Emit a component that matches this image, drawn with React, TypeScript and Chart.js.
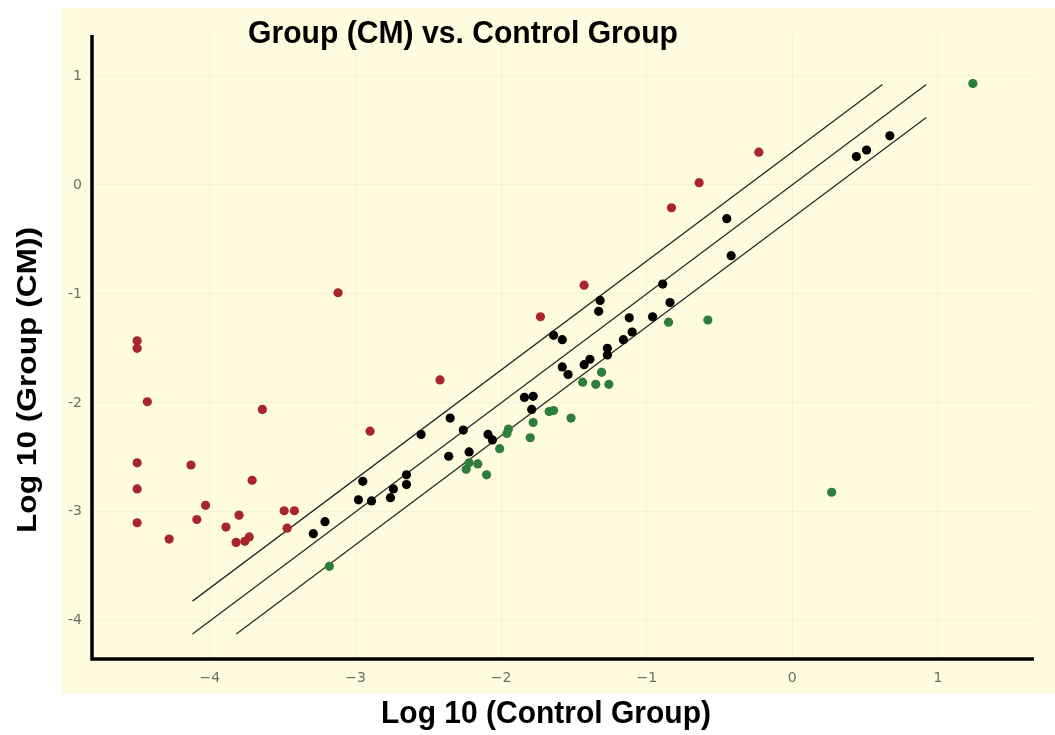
import React, { useEffect, useRef } from 'react';
import { Chart, registerables } from 'chart.js';

Chart.register(...registerables);

// ---- data (log10 values) ----
const redX = [-4.5, -4.5, -4.43, -3.64, -2.42, -2.9, -4.5, -4.13, -4.5, -3.71, -4.03, -4.09, -4.5, -3.8, -3.89, -3.49, -3.42, -3.47, -4.28, -3.82, -3.76, -3.73, -3.12, -1.43, -1.73, -0.23, -0.64, -0.83];
const redY = [-1.43, -1.5, -1.99, -2.06, -1.79, -2.26, -2.55, -2.57, -2.79, -2.71, -2.94, -3.07, -3.1, -3.03, -3.14, -2.99, -2.99, -3.15, -3.25, -3.28, -3.27, -3.23, -0.99, -0.92, -1.21, 0.3, 0.02, -0.21];

const greenX = [1.24, -0.85, -0.58, 0.27, -3.18, -1.31, -1.44, -1.35, -1.26, -1.67, -1.64, -1.52, -1.78, -1.8, -1.95, -1.96, -2.01, -2.22, -2.24, -2.16, -2.1];
const greenY = [0.93, -1.26, -1.24, -2.82, -3.5, -1.72, -1.81, -1.83, -1.83, -2.08, -2.07, -2.14, -2.18, -2.32, -2.24, -2.28, -2.42, -2.55, -2.61, -2.56, -2.66];

const blackX = [0.67, 0.51, 0.44, -0.45, -0.42, -0.89, -0.84, -0.96, -1.12, -1.1, -1.16, -1.32, -1.33, -1.27, -1.27, -1.64, -1.58, -1.39, -1.43, -1.58, -1.54, -1.84, -1.78, -1.79, -2.35, -2.55, -2.26, -2.09, -2.06, -2.22, -2.36, -2.65, -2.65, -2.74, -2.76, -2.95, -2.98, -2.89, -3.21, -3.29];
const blackY = [0.45, 0.32, 0.26, -0.31, -0.65, -0.91, -1.08, -1.21, -1.22, -1.35, -1.42, -1.06, -1.16, -1.5, -1.56, -1.38, -1.42, -1.6, -1.65, -1.67, -1.74, -1.95, -1.94, -2.06, -2.14, -2.29, -2.25, -2.29, -2.34, -2.45, -2.49, -2.66, -2.75, -2.79, -2.87, -2.72, -2.89, -2.9, -3.09, -3.2];

// fold-change reference lines: y = x + offset (log10(2) = 0.301)
const foldOffsets = [0.301, 0, -0.301];
const lineBounds = [-4.12, 0.92];

const xTickValues = [-4, -3, -2, -1, 0, 1];
const yTickValues = [-4, -3, -2, -1, 0, 1];

const titleText = 'Group (CM) vs. Control Group';
const xTitleText = 'Log 10 (Control Group)';
const yTitleText = 'Log 10 (Group (CM))';

const toPoints = (xs: number[], ys: number[]) => xs.map((x, i) => ({ x, y: ys[i] }));

function foldLine(offset: number) {
  const [lo, hi] = lineBounds;
  const x0 = Math.max(lo, lo - offset);
  const x1 = Math.min(hi, hi - offset);
  return [
    { x: x0, y: x0 + offset },
    { x: x1, y: x1 + offset },
  ];
}

function drawFitted(ctx: CanvasRenderingContext2D, text: string, cx: number, cy: number, font: string, targetW: number, rotate = false) {
  ctx.save();
  ctx.font = font;
  const w = ctx.measureText(text).width;
  ctx.translate(cx, cy);
  if (rotate) ctx.rotate(-Math.PI / 2);
  ctx.scale(targetW / w, 1);
  ctx.textAlign = 'center';
  ctx.textBaseline = 'middle';
  ctx.fillStyle = '#000000';
  ctx.fillText(text, 0, 0);
  ctx.restore();
}

const decorPlugin = {
  id: 'decor',
  beforeDraw(chart: any) {
    const ctx = chart.ctx as CanvasRenderingContext2D;
    ctx.save();
    ctx.fillStyle = '#ffffff';
    ctx.fillRect(0, 0, chart.width, chart.height);
    ctx.fillStyle = '#FEFBDE';
    ctx.fillRect(62, 8, chart.width - 62, 686);
    ctx.restore();
  },
  afterDraw(chart: any) {
    const ctx = chart.ctx as CanvasRenderingContext2D;
    const { left, right, top, bottom } = chart.chartArea;
    ctx.save();
    ctx.strokeStyle = '#000000';
    ctx.lineWidth = 3.5;
    ctx.beginPath();
    ctx.moveTo(left, top);
    ctx.lineTo(left, bottom);
    ctx.lineTo(right, bottom);
    ctx.stroke();
    ctx.restore();

    drawFitted(ctx, titleText, 463, 34, "bold 31px 'Liberation Sans', Arial, sans-serif", 430);
    drawFitted(ctx, xTitleText, 546, 714, "bold 31px 'Liberation Sans', Arial, sans-serif", 330);
    drawFitted(ctx, yTitleText, 29, 380, "bold 27px 'Liberation Sans', Arial, sans-serif", 306, true);
  },
};

export default function App() {
  const canvasRef = useRef<HTMLCanvasElement | null>(null);

  useEffect(() => {
    if (!canvasRef.current) return;
    const lineDatasets = foldOffsets.map((off) => ({
      type: 'scatter' as const,
      data: foldLine(off),
      showLine: true,
      borderColor: '#2a2a2a',
      borderWidth: 1.3,
      pointRadius: 0,
      pointHoverRadius: 0,
      fill: false,
      order: 10,
    }));
    const pointDs = (xs: number[], ys: number[], color: string) => ({
      type: 'scatter' as const,
      data: toPoints(xs, ys),
      backgroundColor: color,
      borderColor: color,
      borderWidth: 0,
      pointRadius: 4.6,
      pointHoverRadius: 4.6,
      order: 1,
    });

    const chart = new Chart(canvasRef.current, {
      type: 'scatter',
      data: {
        datasets: [
          ...lineDatasets,
          pointDs(redX, redY, '#A8252B'),
          pointDs(greenX, greenY, '#2F7D3C'),
          pointDs(blackX, blackY, '#000000'),
        ] as any,
      },
      plugins: [decorPlugin],
      options: {
        animation: false,
        responsive: false,
        layout: { padding: { top: 35, right: 21, left: 0, bottom: 0 } },
        plugins: {
          legend: { display: false },
          tooltip: { enabled: false },
          title: { display: false },
        },
        scales: {
          x: {
            type: 'linear',
            min: -4.81,
            max: 1.66,
            afterBuildTicks: (s: any) => {
              s.ticks = xTickValues.map((v) => ({ value: v }));
            },
            afterFit: (s: any) => {
              s.height = 76;
            },
            grid: { color: '#F4F0D2', drawTicks: false, lineWidth: 1 },
            border: { display: false },
            ticks: {
              padding: 11,
              color: '#6f6e62',
              font: { family: "'DejaVu Sans', sans-serif", size: 14 },
              callback: (v: any) => String(v).replace('-', '\u2212'),
            },
          },
          y: {
            type: 'linear',
            min: -4.35,
            max: 1.375,
            afterBuildTicks: (s: any) => {
              s.ticks = yTickValues.map((v) => ({ value: v }));
            },
            afterFit: (s: any) => {
              s.width = 92;
            },
            grid: { color: '#F4F0D2', drawTicks: false, lineWidth: 1 },
            border: { display: false },
            ticks: {
              padding: 10,
              color: '#6f6e62',
              font: { family: "'DejaVu Sans', sans-serif", size: 14 },
              callback: (v: any) => String(v),
            },
          },
        },
      } as any,
    });
    return () => chart.destroy();
  }, []);

  return (
    <div style={{ position: 'fixed', left: 0, top: 0, width: 1055, height: 735, background: '#ffffff' }}>
      <canvas ref={canvasRef} width={1055} height={735} style={{ display: 'block', width: 1055, height: 735 }} />
    </div>
  );
}
